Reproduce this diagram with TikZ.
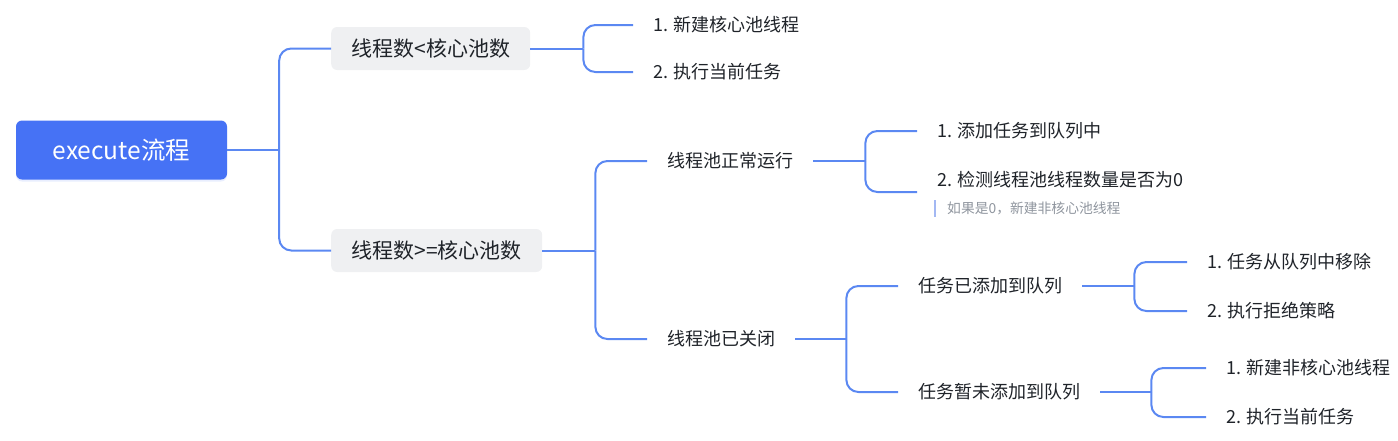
\documentclass[tikz,border=0pt]{standalone}
\usepackage{fontspec}
\setmainfont{Noto Sans CJK SC}
\usetikzlibrary{shadows,calc}
\definecolor{rootblue}{HTML}{4672F5}
\definecolor{linkblue}{HTML}{5B88F2}
\definecolor{txt}{HTML}{1F2329}
\definecolor{boxgray}{HTML}{EFF0F2}
\definecolor{notegray}{HTML}{8F959E}
\definecolor{barblue}{HTML}{A3B8F3}
\begin{document}
\begin{tikzpicture}[x=1pt,y=-1pt,
  rootbox/.style={fill=rootblue, text=white, rounded corners=6pt,
    minimum width=211pt, minimum height=59pt, inner sep=0pt,
    font=\fontsize{24.5}{28}\selectfont,
    drop shadow={shadow xshift=0pt, shadow yshift=-2pt, opacity=0.12, fill=rootblue}},
  gbox/.style={fill=boxgray, text=txt, rounded corners=6pt, minimum height=43pt,
    inner xsep=0pt, inner ysep=0pt, font=\fontsize{21}{25}\selectfont, anchor=west},
  item/.style={text=txt, inner xsep=20pt, inner ysep=2pt,
    font=\fontsize{18}{22}\selectfont, anchor=west},
  note/.style={text=notegray, inner sep=0pt, font=\fontsize{13.8}{16}\selectfont, anchor=west},
  link/.style={draw=linkblue, line width=2pt},
  branch/.style={link, rounded corners=12pt},
  notebar/.style={draw=barblue, line width=2pt}
]
\useasboundingbox (0,0) rectangle (1398,440);

% nodes
\node[rootbox] (root) at (121.5,150) {execute流程};
\node[gbox, minimum width=199pt] (a) at (331,48.5) {线程数<核心池数};
\node[gbox, minimum width=211pt] (b) at (331,250.5) {线程数>=核心池数};

\node[item] (a1) at (633,25) {1. 新建核心池线程};
\node[item] (a2) at (633,72) {2. 执行当前任务};

\node[item] (b1) at (647,161) {线程池正常运行};
\node[item] (b2) at (647,339) {线程池已关闭};

\node[item] (b11) at (917,131) {1. 添加任务到队列中};
\node[item] (b12) at (917,180) {2. 检测线程池线程数量是否为0};
\node[note] (b12n) at (947,208.5) {如果是0，新建非核心池线程};
\draw[notebar] (935,200) -- (935,217);

\node[item] (b21) at (898,286) {任务已添加到队列};
\node[item] (b22) at (898,392) {任务暂未添加到队列};

\node[item] (b211) at (1187,262) {1. 任务从队列中移除};
\node[item] (b212) at (1187,311) {2. 执行拒绝策略};
\node[item] (b221) at (1206,368) {1. 新建非核心池线程};
\node[item] (b222) at (1206,417) {2. 执行当前任务};

% junctions
\coordinate (jr) at ($(root.east)+(52,0)$);
\coordinate (ja) at ($(a.east)+(53,0)$);
\coordinate (jb) at ($(b.east)+(53,0)$);
\coordinate (jb1) at ($(b1.east)+(52,0)$);
\coordinate (jb2) at ($(b2.east)+(51,0)$);
\coordinate (jb21) at ($(b21.east)+(52,0)$);
\coordinate (jb22) at ($(b22.east)+(51,0)$);
\coordinate (b12in) at ([yshift=-12pt]b12.west);

% connectors
\draw[link] (root.east) -- (jr);
\draw[branch] (jr) |- (a.west);
\draw[branch] (jr) |- (b.west);

\draw[link] (a.east) -- (ja);
\draw[branch] (ja) |- (a1.west);
\draw[branch] (ja) |- (a2.west);

\draw[link] (b.east) -- (jb);
\draw[branch] (jb) |- (b1.west);
\draw[branch] (jb) |- (b2.west);

\draw[link] (b1.east) -- (jb1);
\draw[branch] (jb1) |- (b11.west);
\draw[branch] (jb1) |- (b12in);

\draw[link] (b2.east) -- (jb2);
\draw[branch] (jb2) |- (b21.west);
\draw[branch] (jb2) |- (b22.west);

\draw[link] (b21.east) -- (jb21);
\draw[branch] (jb21) |- (b211.west);
\draw[branch] (jb21) |- (b212.west);

\draw[link] (b22.east) -- (jb22);
\draw[branch] (jb22) |- (b221.west);
\draw[branch] (jb22) |- (b222.west);
\end{tikzpicture}
\end{document}
